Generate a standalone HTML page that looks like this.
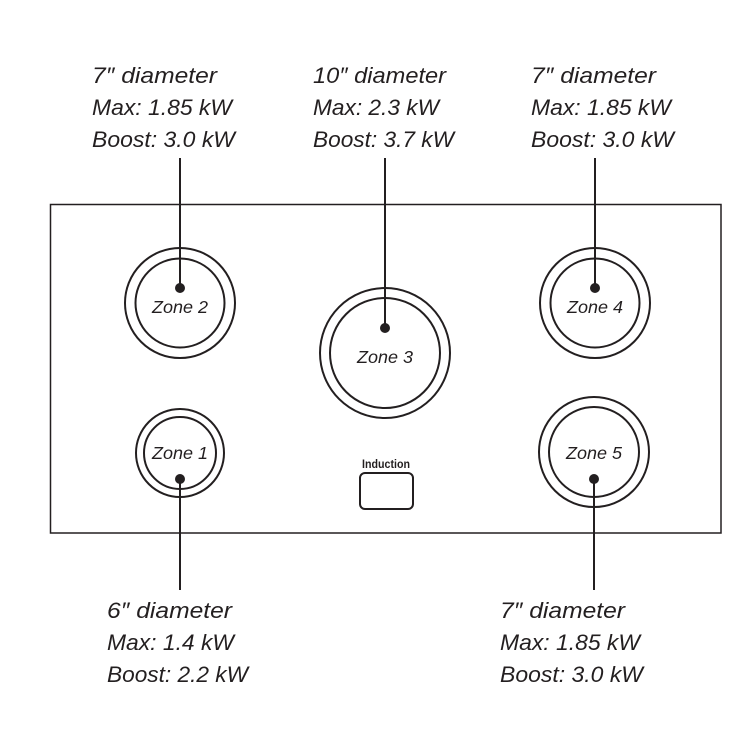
<!DOCTYPE html>
<html><head><meta charset="utf-8"><style>html,body{margin:0;padding:0;background:#fff}</style></head>
<body>
<svg width="751" height="751" viewBox="0 0 751 751" xmlns="http://www.w3.org/2000/svg">
<g font-family="Liberation Sans, sans-serif" font-style="italic" fill="#231f20" font-size="22">
<text x="92" y="83" textLength="125" lengthAdjust="spacingAndGlyphs">7″ diameter</text>
<text x="92" y="115" textLength="140" lengthAdjust="spacingAndGlyphs">Max: 1.85 kW</text>
<text x="92" y="147" textLength="143" lengthAdjust="spacingAndGlyphs">Boost: 3.0 kW</text>
<text x="313" y="83" textLength="133" lengthAdjust="spacingAndGlyphs">10″ diameter</text>
<text x="313" y="115" textLength="126" lengthAdjust="spacingAndGlyphs">Max: 2.3 kW</text>
<text x="313" y="147" textLength="141" lengthAdjust="spacingAndGlyphs">Boost: 3.7 kW</text>
<text x="531" y="83" textLength="125" lengthAdjust="spacingAndGlyphs">7″ diameter</text>
<text x="531" y="115" textLength="140" lengthAdjust="spacingAndGlyphs">Max: 1.85 kW</text>
<text x="531" y="147" textLength="143" lengthAdjust="spacingAndGlyphs">Boost: 3.0 kW</text>
<text x="107" y="618" textLength="125" lengthAdjust="spacingAndGlyphs">6″ diameter</text>
<text x="107" y="650" textLength="127" lengthAdjust="spacingAndGlyphs">Max: 1.4 kW</text>
<text x="107" y="682" textLength="141" lengthAdjust="spacingAndGlyphs">Boost: 2.2 kW</text>
<text x="500" y="618" textLength="125" lengthAdjust="spacingAndGlyphs">7″ diameter</text>
<text x="500" y="650" textLength="140" lengthAdjust="spacingAndGlyphs">Max: 1.85 kW</text>
<text x="500" y="682" textLength="143" lengthAdjust="spacingAndGlyphs">Boost: 3.0 kW</text>
</g>
<rect x="50.5" y="204.5" width="670.5" height="328.5" fill="none" stroke="#231f20" stroke-width="1.5"/>
<g fill="none" stroke="#231f20" stroke-width="2">
<circle cx="180" cy="303" r="55"/><circle cx="180" cy="303" r="44.5"/>
<circle cx="385" cy="353" r="65"/><circle cx="385" cy="353" r="55"/>
<circle cx="595" cy="303" r="55"/><circle cx="595" cy="303" r="44.5"/>
<circle cx="180" cy="453" r="44"/><circle cx="180" cy="453" r="36"/>
<circle cx="594" cy="452" r="55"/><circle cx="594" cy="452" r="45"/>
<rect x="360" y="473" width="53" height="36" rx="5"/>
</g>
<g stroke="#231f20" stroke-width="2">
<line x1="180" y1="158" x2="180" y2="288"/>
<line x1="385" y1="158" x2="385" y2="328"/>
<line x1="595" y1="158" x2="595" y2="288"/>
<line x1="180" y1="479" x2="180" y2="590"/>
<line x1="594" y1="479" x2="594" y2="590"/>
</g>
<g fill="#231f20">
<circle cx="180" cy="288" r="5"/><circle cx="385" cy="328" r="5"/><circle cx="595" cy="288" r="5"/>
<circle cx="180" cy="479" r="5"/><circle cx="594" cy="479" r="5"/>
</g>
<g font-family="Liberation Sans, sans-serif" font-style="italic" fill="#231f20" font-size="17.5" text-anchor="middle">
<text x="180" y="313" textLength="56" lengthAdjust="spacingAndGlyphs">Zone 2</text>
<text x="385" y="363" textLength="56" lengthAdjust="spacingAndGlyphs">Zone 3</text>
<text x="595" y="313" textLength="56" lengthAdjust="spacingAndGlyphs">Zone 4</text>
<text x="180" y="459" textLength="56" lengthAdjust="spacingAndGlyphs">Zone 1</text>
<text x="594" y="459" textLength="56" lengthAdjust="spacingAndGlyphs">Zone 5</text>
</g>
<text x="386" y="468" text-anchor="middle" font-family="Liberation Sans Narrow, Liberation Sans, sans-serif" font-weight="bold" font-size="12" fill="#231f20" textLength="48" lengthAdjust="spacingAndGlyphs">Induction</text>
</svg>
</body></html>
